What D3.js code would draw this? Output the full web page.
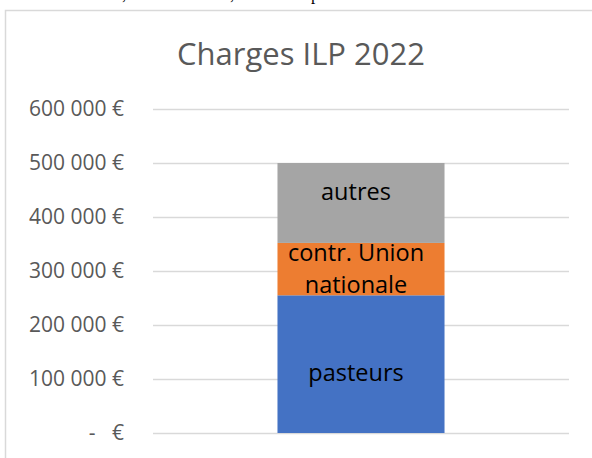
<!DOCTYPE html>
<html>
<head>
<meta charset="utf-8">
<script src="https://cdn.jsdelivr.net/npm/d3@7"></script>
<style>
  html, body { margin: 0; padding: 0; background: #fff; overflow: hidden; }
  svg { display: block; }
</style>
</head>
<body>
<div id="chart"></div>
<script>
// data
const categories = ["Charges ILP 2022"];
const seriesNames = ["pasteurs", "contr. Union nationale", "autres"];
const seriesValues = [255000, 97000, 148000];
const seriesColors = ["#4472C4", "#ED7D31", "#A5A5A5"];
const tickValues = [0, 100000, 200000, 300000, 400000, 500000, 600000];
const tickLabels = ["-   €", "100 000 €", "200 000 €", "300 000 €", "400 000 €", "500 000 €", "600 000 €"];

const W = 592, H = 458;
const svg = d3.select("#chart").append("svg").attr("width", W).attr("height", H);

// leftover line of the page above the chart (only descenders show)
const topText = [[122, ","], [230, ","], [311, "p"]];
svg.selectAll("text.above").data(topText).join("text")
    .attr("class", "above")
    .attr("x", d => d[0]).attr("y", 0)
    .attr("font-family", "Liberation Serif").attr("font-size", 17)
    .text(d => d[1]);

// chart frame (right and bottom sides fall outside the window)
svg.append("rect")
    .attr("x", 5.5).attr("y", 10.5).attr("width", 620).attr("height", 480)
    .attr("fill", "#fff").attr("stroke", "#d9d9d9").attr("stroke-width", 1.5);

svg.append("text")
    .attr("x", 301).attr("y", 65)
    .attr("text-anchor", "middle")
    .attr("font-family", "Open Sans").attr("font-size", 31)
    .attr("fill", "#595959")
    .text(categories[0]);

const plot = {left: 153, right: 569, top: 109, bottom: 433};
const x = d3.scaleBand().domain(categories).range([plot.left, plot.right]).padding(0.427);
const y = d3.scaleLinear().domain([0, 600000]).range([plot.bottom, plot.top]);

// gridlines
svg.append("g").selectAll("line").data(tickValues).join("line")
    .attr("x1", plot.left).attr("x2", plot.right)
    .attr("y1", d => Math.round(y(d)) + 0.5).attr("y2", d => Math.round(y(d)) + 0.5)
    .attr("stroke", "#d9d9d9").attr("stroke-width", 1.5);

// y axis labels
const yAxis = svg.append("g")
    .attr("transform", "translate(124,0)")
    .call(d3.axisLeft(y).tickValues(tickValues).tickSize(0).tickPadding(0)
        .tickFormat((d, i) => tickLabels[i]));
yAxis.select(".domain").remove();
yAxis.selectAll("text")
    .attr("font-family", "Open Sans").attr("font-size", 21)
    .attr("fill", "#595959")
    .style("white-space", "pre");

// stacked segments
let acc = 0;
const segments = seriesValues.map((v, i) => {
    const s = {name: seriesNames[i], y0: acc, y1: acc + v, color: seriesColors[i]};
    acc += v;
    return s;
});

const cat = categories[0];
svg.append("g").selectAll("rect").data(segments).join("rect")
    .attr("x", x(cat)).attr("width", x.bandwidth())
    .attr("y", d => y(d.y1)).attr("height", d => y(d.y0) - y(d.y1))
    .attr("fill", d => d.color);

// labels inside the segments
const labelLines = {"pasteurs": ["pasteurs"], "contr. Union nationale": ["contr. Union", "nationale"], "autres": ["autres"]};
const labelShift = {"pasteurs": 9, "contr. Union nationale": 0, "autres": -11};
const cx = x(cat) + x.bandwidth() / 2 - 5;
segments.forEach(s => {
    const lines = labelLines[s.name];
    const mid = (y(s.y0) + y(s.y1)) / 2 + labelShift[s.name];
    const lh = 32;
    const t = svg.append("text")
        .attr("text-anchor", "middle")
        .attr("font-family", "Open Sans").attr("font-size", 23.5)
        .attr("fill", "#000");
    lines.forEach((ln, j) => {
        t.append("tspan")
            .attr("x", cx)
            .attr("y", mid + (j - (lines.length - 1) / 2) * lh)
            .attr("dy", "0.35em")
            .text(ln);
    });
});
</script>
</body>
</html>
